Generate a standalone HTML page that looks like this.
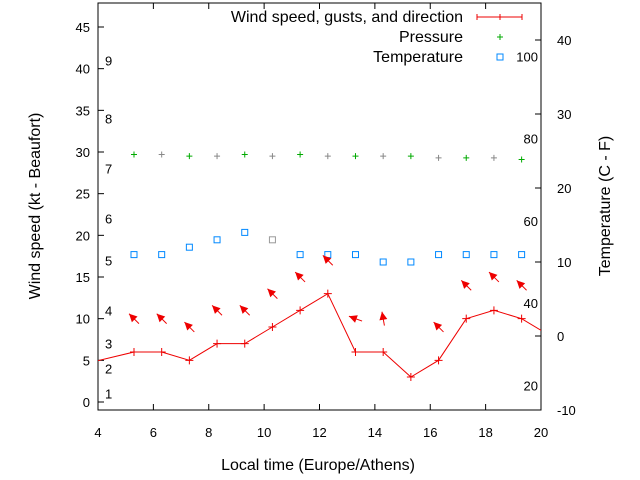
<!DOCTYPE html>
<html><head><meta charset="utf-8"><style>
body{margin:0;background:#fff}
svg{display:block;font-family:"Liberation Sans","DejaVu Sans",sans-serif;font-size:13px}
.big{font-size:16px}
</style></head><body>
<svg id="c" width="640" height="480"></svg>
<script>
const hours=[5.3,6.3,7.3,8.3,9.3,10.3,11.3,12.3,13.3,14.3,15.3,16.3,17.3,18.3,19.3];
const wind=[6,6,5,7,7,9,11,13,6,6,3,5,10,11,10];
const windEdge=[[3.3,4.4],[20.3,8]];
const gust=[10,10,9,11,11,13,15,17,10,10,null,9,14,15,14];
const dirAngle=[135,135,135,135,135,135,135,135,160,100,0,135,135,135,135];
const pressure=[29.7,29.7,29.5,29.5,29.7,29.5,29.7,29.5,29.5,29.5,29.5,29.3,29.3,29.3,29.1];
const temp=[11,11,12,13,14,13,11,11,11,10,10,11,11,11,11];
const xTicks=[4,6,8,10,12,14,16,18,20];
const yTicks=[0,5,10,15,20,25,30,35,40,45];
const y2Ticks=[-10,0,10,20,30,40];
const beaufort=[[1,1],[2,4],[3,7],[4,11],[5,17],[6,22],[7,28],[8,34],[9,41]];
const fLabels=[20,40,60,80,100];

const L=98,R=541,T=3,B=410;
const sx=v=>L+(v-4)*(R-L)/16;
const sy=v=>402-v*375/45;
const sy2=v=>336-v*7.4;
const svg=document.getElementById('c');
const NS='http://www.w3.org/2000/svg';
function el(tag,attrs,parent,text){const e=document.createElementNS(NS,tag);for(const k in attrs)e.setAttribute(k,attrs[k]);if(text!==undefined)e.textContent=text;(parent||svg).appendChild(e);return e;}

const defs=el('defs',{});
const cp=el('clipPath',{id:'clip'},defs);el('rect',{x:L,y:T,width:R-L,height:B-T},cp);

const frame=el('rect',{x:L,y:T,width:R-L,height:B-T,fill:'none',stroke:'#000','stroke-width':1});


const xg=el('g',{});
xTicks.forEach(v=>{const x=sx(v);
 el('line',{x1:x,y1:B,x2:x,y2:B-6,stroke:'#000'},xg);el('line',{x1:x,y1:T,x2:x,y2:T+6,stroke:'#000'},xg);
 const t=el('text',{x:x,y:B+27,'text-anchor':'middle'},xg,String(v));});
const yg=el('g',{});
yTicks.forEach(v=>{const y=sy(v);
 el('line',{x1:L,y1:y,x2:L+6,y2:y,stroke:'#000'},yg);
 const t=el('text',{x:L-8,y:y+5,'text-anchor':'end'},yg,String(v));});
const y2g=el('g',{});
y2Ticks.forEach(v=>{const y=sy2(v);
 el('line',{x1:R,y1:y,x2:R-6,y2:y,stroke:'#000'},y2g);
 const t=el('text',{x:R+16,y:y+5,'text-anchor':'start'},y2g,String(v));});
beaufort.forEach(([n,k])=>{const t=el('text',{x:105,y:sy(k)+5},svg,String(n));});
fLabels.forEach(f=>{const c=(f-32)*5/9;const t=el('text',{x:538,y:sy2(c)+5,'text-anchor':'end'},svg,String(f));});

let t=el('text',{x:318,y:470,'text-anchor':'middle',class:'big'},svg,'Local time (Europe/Athens)');
t=el('text',{x:40,y:206,'text-anchor':'middle',class:'big',transform:'rotate(-90 40 206)'},svg,'Wind speed (kt - Beaufort)');
t=el('text',{x:610,y:206,'text-anchor':'middle',class:'big',transform:'rotate(-90 610 206)'},svg,'Temperature (C - F)');

const g=el('g',{'clip-path':'url(#clip)'});
pressure.forEach((p,i)=>{const x=sx(hours[i]),y=sy(p);const col=i%2?'#888':'#0a0';
 const m=el('path',{d:`M${x-3} ${y}h6M${x} ${y-3}v6`,stroke:col,'stroke-width':1},g);});
temp.forEach((v,i)=>{const x=sx(hours[i]),y=sy2(v);
 const m=el('rect',{x:x-3,y:y-3,width:6,height:6,fill:'none',stroke:i==5?'#999':'#08f','stroke-width':1},g);});
const pts=[windEdge[0]].concat(hours.map((h,i)=>[h,wind[i]])).concat([windEdge[1]]);
const wl=el('polyline',{points:pts.map(p=>sx(p[0])+','+sy(p[1])).join(' '),fill:'none',stroke:'#e00','stroke-width':1},g);

wind.forEach((v,i)=>{const x=sx(hours[i]),y=sy(v);
 const m=el('path',{d:`M${x-4} ${y}h8M${x} ${y-4}v8`,stroke:'#e00'},g);});
gust.forEach((v,i)=>{if(v==null)return;const cx=sx(hours[i]),cy=sy(v);const a=dirAngle[i]*Math.PI/180;
 const dx=Math.cos(a)*7,dy=-Math.sin(a)*7;const hx=cx+dx,hy=cy+dy,tx=cx-dx,ty=cy-dy;
 const ux=dx/7,uy=dy/7;const px=-uy,py=ux;
 const ag=el('g',{},g);
 el('line',{x1:tx,y1:ty,x2:hx,y2:hy,stroke:'#e00'},ag);
 el('polygon',{points:`${hx},${hy} ${hx-ux*8+px*4},${hy-uy*8+py*4} ${hx-ux*8-px*4},${hy-uy*8-py*4}`,fill:'#e00'},ag);});

const lg=el('g',{});
const le1=el('g',{},lg);
el('text',{x:463,y:22,'text-anchor':'end',class:'big'},le1,'Wind speed, gusts, and direction');
el('path',{d:'M477 17h45M477 14v6M500 14v6M522 14v6',stroke:'#e00'},le1);
const le2=el('g',{},lg);
el('text',{x:463,y:42,'text-anchor':'end',class:'big'},le2,'Pressure');
el('path',{d:'M497 37h6M500 34v6',stroke:'#0a0'},le2);
const le3=el('g',{},lg);
el('text',{x:463,y:62,'text-anchor':'end',class:'big'},le3,'Temperature');
el('rect',{x:497,y:54,width:6,height:6,fill:'none',stroke:'#08f'},le3);
</script>
</body></html>
